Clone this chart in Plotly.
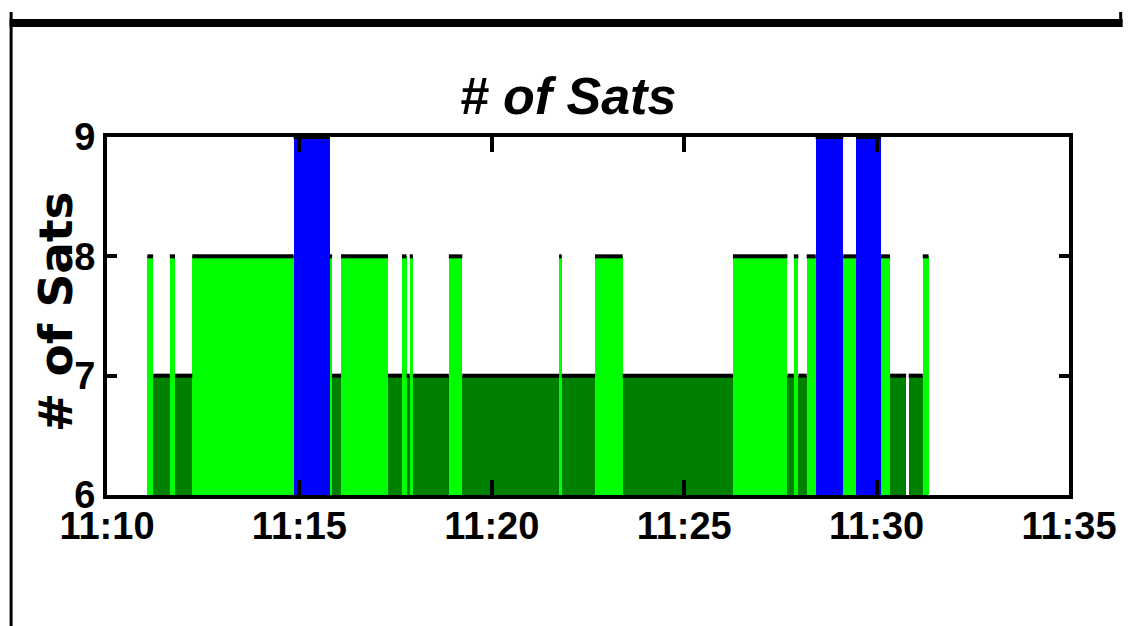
import plotly.graph_objects as go
import pandas as pd

DAY = "2004-06-01 "

seg_start = ["11:11:03", "11:11:12", "11:11:38", "11:11:46", "11:12:13", "11:14:51",
             "11:15:47", "11:15:51", "11:16:05", "11:17:18", "11:17:40", "11:17:47",
             "11:17:52", "11:17:57", "11:18:53", "11:19:14", "11:21:45", "11:21:49",
             "11:22:41", "11:23:24", "11:26:16", "11:27:41", "11:27:51", "11:27:58",
             "11:28:11", "11:28:25", "11:29:08", "11:29:28", "11:30:07", "11:30:21",
             "11:30:50", "11:31:12"]
seg_end = ["11:11:12", "11:11:38", "11:11:46", "11:12:13", "11:14:51", "11:15:47",
           "11:15:51", "11:16:05", "11:17:18", "11:17:40", "11:17:47", "11:17:52",
           "11:17:57", "11:18:53", "11:19:14", "11:21:45", "11:21:49", "11:22:41",
           "11:23:24", "11:26:16", "11:27:41", "11:27:51", "11:27:58", "11:28:11",
           "11:28:25", "11:29:08", "11:29:28", "11:30:07", "11:30:21", "11:30:46",
           "11:31:12", "11:31:21"]
num_sats = [8, 7, 8, 7, 8, 9,
            8, 7, 8, 7, 8, 7,
            8, 7, 8, 7, 8, 7,
            8, 7, 8, 7, 8, 7,
            8, 9, 8, 9, 8, 7,
            7, 8]

x_tick_vals = ["11:10", "11:15", "11:20", "11:25", "11:30", "11:35"]
y_tick_vals = [6, 7, 8, 9]

sat_colors = {7: "#008000", 8: "#00ff00", 9: "#0000ff"}

starts = pd.to_datetime([DAY + s for s in seg_start])
ends = pd.to_datetime([DAY + s for s in seg_end])
mids = starts + (ends - starts) / 2
widths = [(e - s).total_seconds() * 1000 for s, e in zip(starts, ends)]

fig = go.Figure()
fig.add_trace(go.Bar(
    x=mids, y=num_sats, width=widths,
    marker=dict(color=[sat_colors[v] for v in num_sats], line=dict(width=0)),
    showlegend=False, hoverinfo="skip",
))

lx, ly = [], []
for s, e, v in zip(starts, ends, num_sats):
    lx += [s, e, None]
    ly += [v, v, None]
fig.add_trace(go.Scatter(x=lx, y=ly, mode="lines",
                         line=dict(color="black", width=4),
                         showlegend=False, hoverinfo="skip"))

NARROW = "Liberation Sans Narrow, Liberation Sans, Arial, sans-serif"
tick_font = dict(family=NARROW, size=38, color="black", weight="bold")

fig.update_xaxes(
    type="date",
    range=[DAY + "11:10:00", DAY + "11:35:00"],
    tickvals=[DAY + t + ":00" for t in x_tick_vals],
    ticktext=x_tick_vals,
    showline=True, linecolor="black", linewidth=4, mirror="allticks",
    ticks="inside", ticklen=15, tickwidth=4, tickcolor="black",
    showgrid=False, zeroline=False, tickfont=tick_font,
    ticklabelstandoff=-6,
)
fig.update_yaxes(
    range=[6, 9],
    tickvals=y_tick_vals,
    showline=True, linecolor="black", linewidth=4, mirror="allticks",
    ticks="inside", ticklen=10, tickwidth=4, tickcolor="black",
    showgrid=False, zeroline=False, tickfont=tick_font,
)

def px2x(px):
    return (px - 107) / 968

def px2y(py):
    return (495 - py) / 358

shapes = [
    dict(type="line", xref="paper", yref="paper", x0=px2x(10.5), x1=px2x(10.5),
         y0=px2y(12), y1=px2y(626), line=dict(color="black", width=3)),
    dict(type="line", xref="paper", yref="paper", x0=px2x(9), x1=px2x(1129),
         y0=px2y(23), y1=px2y(23), line=dict(color="black", width=8)),
    dict(type="line", xref="paper", yref="paper", x0=px2x(1127), x1=px2x(1127),
         y0=px2y(12), y1=px2y(23), line=dict(color="black", width=3)),
]

fig.update_layout(
    width=1129, height=626,
    margin=dict(l=107, r=54, t=137, b=131),
    paper_bgcolor="white", plot_bgcolor="white",
    bargap=0,
    title=dict(text="# of Sats", x=568 / 1129, xanchor="center",
               y=1 - 96 / 626, yanchor="middle",
               font=dict(family=NARROW, size=52, color="black",
                         weight="bold", style="italic")),
    annotations=[dict(text="# of Sats", xref="paper", yref="paper",
                      x=px2x(55), y=px2y(312), textangle=-90, showarrow=False,
                      xanchor="center", yanchor="middle",
                      font=dict(family="DejaVu Sans, sans-serif", size=47,
                                color="black", weight="bold"))],
    shapes=shapes,
)

fig.write_html("out.html", config={"displayModeBar": False},
               post_script="document.body.style.margin='0';document.body.style.padding='0';")
